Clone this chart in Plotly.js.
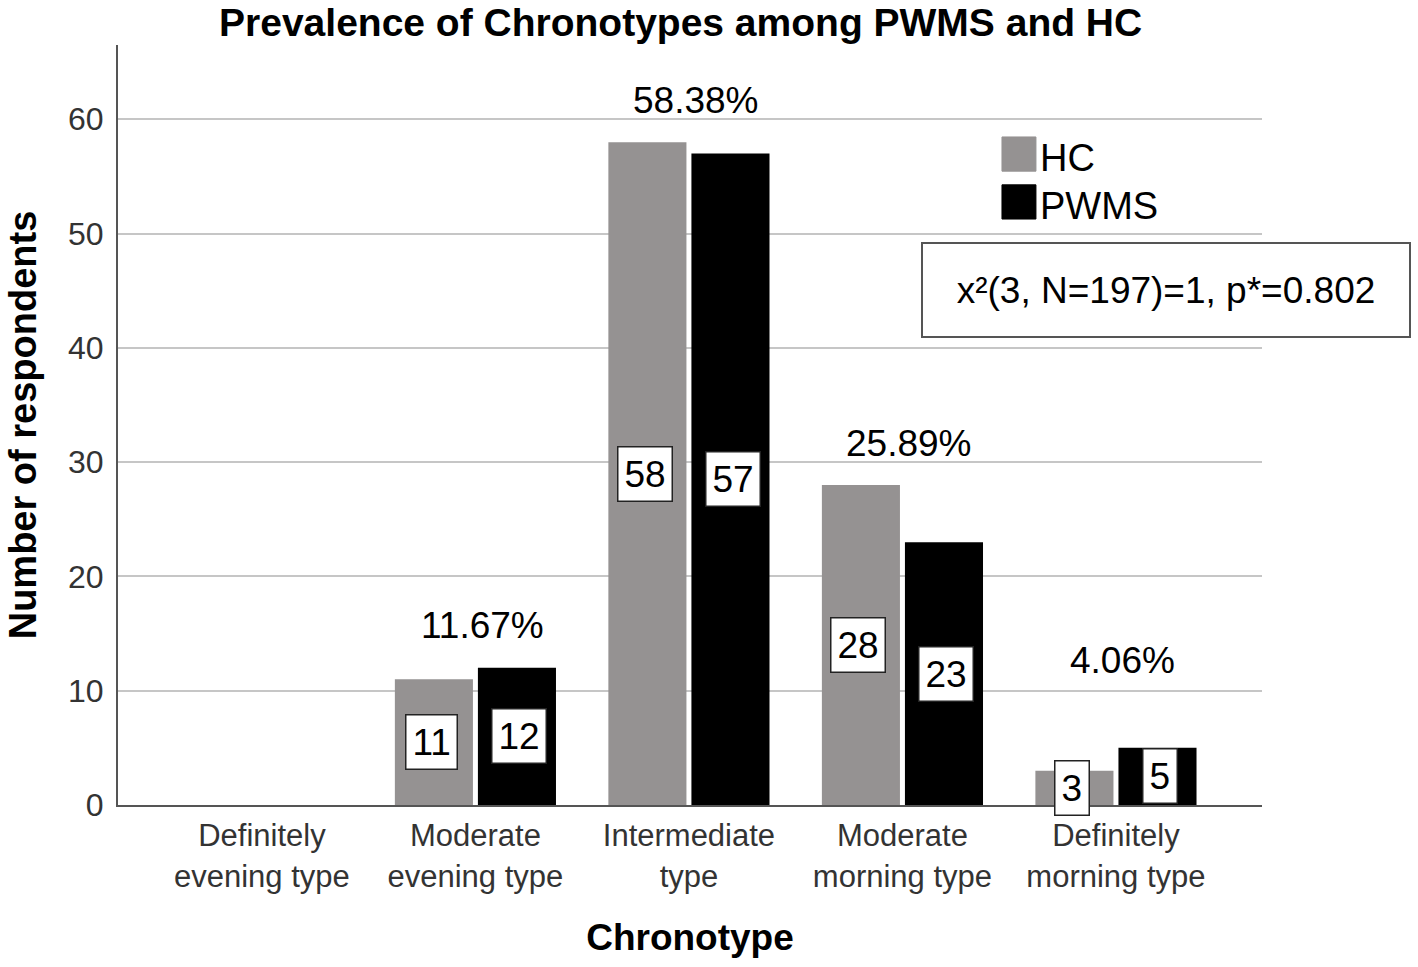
<!DOCTYPE html>
<html>
<head>
<meta charset="utf-8">
<script src="https://cdn.plot.ly/plotly-3.0.1.min.js"></script>
<style>
  html, body { margin: 0; padding: 0; background: #fff; }
  #chart { width: 1418px; height: 967px; }
</style>
</head>
<body>
<div id="chart"></div>
<script>
// chronotype categories (two-line tick labels)
var categories = ["Definitely<br>evening type", "Moderate<br>evening type", "Intermediate<br>type",
                  "Moderate<br>morning type", "Definitely<br>morning type"];
var hcValues = [0, 11, 58, 28, 3];
var pwmsValues = [0, 12, 57, 23, 5];
var percentLabels = ["", "11.67%", "58.38%", "25.89%", "4.06%"];
var yTicks = [0, 10, 20, 30, 40, 50, 60];

var hcColor = "#959292";
var pwmsColor = "#000000";
var fontFam = "Liberation Sans, Arial, sans-serif";

var traces = [
  {
    type: "bar", name: "HC", x: categories, y: hcValues,
    marker: {color: hcColor, line: {width: 0}},
    hoverinfo: "x+y"
  },
  {
    type: "bar", name: "PWMS", x: categories, y: pwmsValues,
    marker: {color: pwmsColor, line: {width: 0}},
    hoverinfo: "x+y"
  }
];

var annotations = [];
var barOffset = 0.206;
categories.forEach(function (c, i) {
  // boxed count labels in the middle of each bar
  [[hcValues[i], -barOffset], [pwmsValues[i], barOffset]].forEach(function (p) {
    if (p[0] > 0) {
      annotations.push({
        x: i + p[1], y: p[0] / 2, xref: "x", yref: "y",
        text: String(p[0]), showarrow: false,
        font: {family: fontFam, size: 37, color: "#000"},
        bgcolor: "#fff", bordercolor: "#222", borderwidth: 1.5, borderpad: 6
      });
    }
  });
  // group percentage above bars
  if (percentLabels[i]) {
    annotations.push({
      x: i, y: Math.max(hcValues[i], pwmsValues[i], 9), xref: "x", yref: "y",
      text: percentLabels[i], showarrow: false, yshift: 42, xshift: 7,
      font: {family: fontFam, size: 37, color: "#000"}
    });
  }
});

// chi-square box
annotations.push({
  xref: "paper", yref: "paper", x: 0.916, y: 0.678, xanchor: "center", yanchor: "middle",
  text: "x²(3, N=197)=1, p*=0.802", showarrow: false,
  width: 446, height: 52, align: "center",
  font: {family: fontFam, size: 37, color: "#000"},
  bgcolor: "#fff", bordercolor: "#555", borderwidth: 2, borderpad: 20
});

// custom legend (larger swatches as in the original)
var legendItems = [["HC", hcColor], ["PWMS", pwmsColor]];
var shapes = [];
legendItems.forEach(function (it, k) {
  var yTop = 0.879 - k * 0.063;
  shapes.push({
    type: "rect", xref: "paper", yref: "paper",
    x0: 0.7727, x1: 0.8024, y0: yTop - 0.045, y1: yTop,
    fillcolor: it[1], line: {color: it[1], width: 1}
  });
  annotations.push({
    xref: "paper", yref: "paper", x: 0.8045, y: yTop - 0.028, xanchor: "left", yanchor: "middle",
    text: it[0], showarrow: false,
    font: {family: fontFam, size: 38, color: "#000"}
  });
});

var layout = {
  width: 1418, height: 967,
  margin: {l: 118, r: 156, t: 45, b: 162},
  paper_bgcolor: "#fff", plot_bgcolor: "#fff",
  font: {family: fontFam, color: "#333"},
  barmode: "group", bargap: 0.222, bargroupgap: 0.06,
  showlegend: false,
  title: {
    text: "<b>Prevalence of Chronotypes among PWMS and HC</b>",
    font: {family: fontFam, size: 39, color: "#000"},
    x: 0.48, xanchor: "center", y: 0.977, yanchor: "middle"
  },
  xaxis: {
    type: "category", range: [-0.674, 4.684],
    showgrid: false, showline: true, linecolor: "#555", linewidth: 2,
    ticks: "", ticklabelstandoff: 2, tickfont: {family: fontFam, size: 31, color: "#333"},
    title: {text: "<b>Chronotype</b>", font: {family: fontFam, size: 37, color: "#000"}, standoff: 32},
    fixedrange: true
  },
  yaxis: {
    range: [0, 66.5], tickvals: yTicks, ticktext: yTicks.map(String),
    showgrid: true, gridcolor: "#c6c6c6", gridwidth: 2,
    showline: true, linecolor: "#555", linewidth: 2, zeroline: false,
    ticks: "", ticklen: 0, ticklabelstandoff: 6, tickfont: {family: fontFam, size: 32, color: "#333"},
    title: {text: "<b>Number of respondents</b>", font: {family: fontFam, size: 38, color: "#000"}, standoff: 20},
    fixedrange: true
  },
  annotations: annotations,
  shapes: shapes
};

Plotly.newPlot("chart", traces, layout, {displayModeBar: false, staticPlot: true});
</script>
</body>
</html>
